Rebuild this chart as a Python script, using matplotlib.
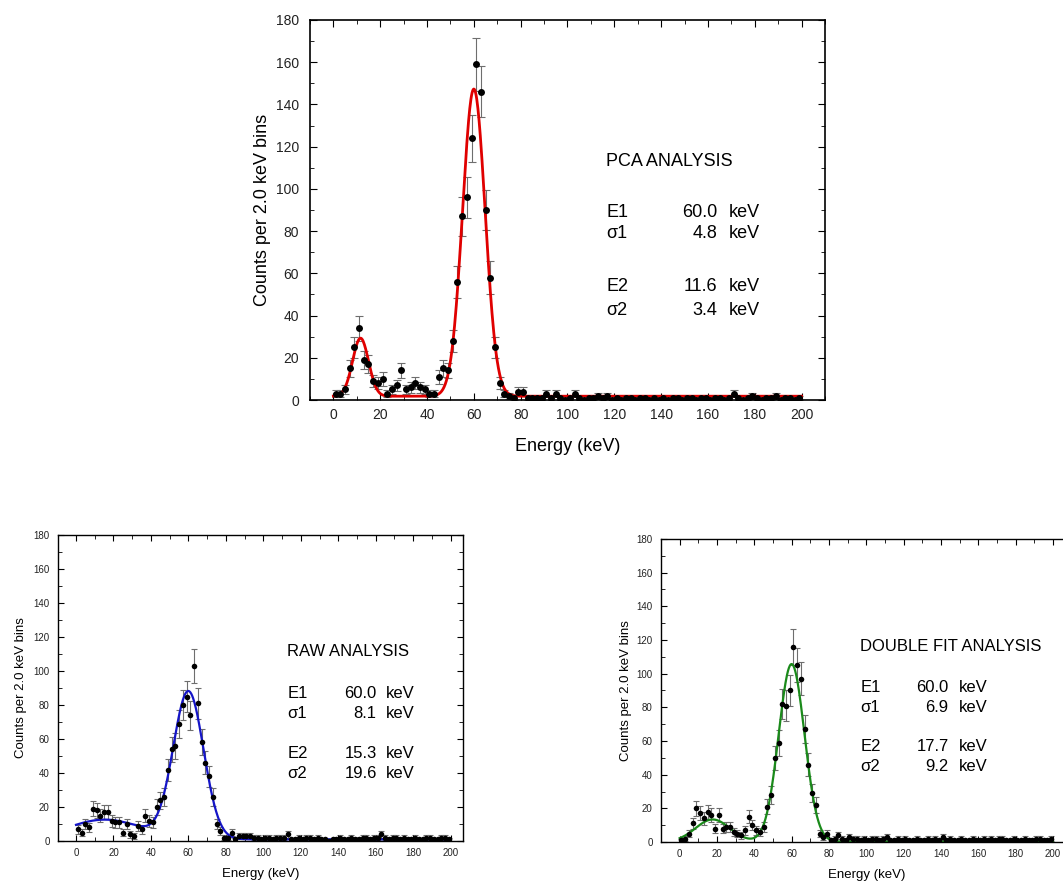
import numpy as np
import matplotlib.pyplot as plt
from matplotlib.ticker import MultipleLocator

plt.rcParams['font.family'] = ['Liberation Sans', 'DejaVu Sans']

# 2.0 keV bins, centres 1 ... 199 keV
energy = np.arange(1, 200, 2)

pca_counts = [3, 3, 5, 15, 25, 34, 19, 17, 9, 8,
              10, 3, 5, 7, 14, 5, 6, 8, 6, 5,
              3, 3, 11, 15, 14, 28, 56, 87, 96, 124,
              159, 146, 90, 58, 25, 8, 3, 2, 1, 4,
              4, 1, 1, 1, 1, 3, 1, 3, 1, 0,
              1, 3, 1, 0, 1, 1, 2, 1, 2, 0,
              1, 0, 1, 1, 0, 1, 1, 0, 1, 0,
              1, 0, 1, 1, 0, 1, 1, 0, 1, 1,
              0, 1, 1, 0, 1, 3, 1, 0, 1, 2,
              1, 0, 1, 1, 2, 0, 1, 1, 0, 1]

raw_counts = [7, 5, 10, 8, 19, 18, 15, 17, 17, 12,
              11, 11, 5, 10, 4, 3, 9, 7, 15, 12,
              11, 20, 24, 26, 42, 54, 56, 69, 80, 85,
              74, 103, 81, 58, 46, 38, 26, 10, 6, 2,
              2, 5, 1, 3, 3, 3, 3, 2, 2, 1,
              2, 2, 1, 2, 2, 2, 4, 1, 1, 2,
              1, 2, 2, 1, 2, 1, 1, 0, 1, 1,
              2, 1, 1, 2, 1, 1, 2, 2, 1, 2,
              2, 4, 2, 1, 2, 2, 1, 2, 1, 1,
              2, 1, 1, 2, 2, 1, 1, 2, 2, 1]

dbl_counts = [1, 2, 5, 11, 20, 17, 14, 18, 16, 8,
              16, 8, 9, 9, 6, 5, 4, 7, 15, 10,
              7, 6, 9, 21, 28, 50, 59, 82, 81, 90,
              116, 105, 97, 67, 46, 29, 22, 5, 3, 5,
              1, 2, 4, 2, 1, 3, 2, 2, 1, 2,
              1, 2, 2, 1, 2, 3, 1, 1, 2, 1,
              2, 1, 1, 2, 1, 1, 2, 1, 2, 1,
              3, 1, 2, 1, 1, 2, 1, 1, 2, 1,
              1, 2, 1, 2, 1, 2, 2, 1, 1, 2,
              1, 1, 2, 1, 1, 2, 2, 1, 1, 2]

# fit results: amplitude1, E1, sigma1, amplitude2, E2, sigma2, background
pca_fit = [145.5, 60.0, 4.8, 27.5, 11.6, 3.4, 1.8]
raw_fit = [86.4, 60.0, 8.1, 11.6, 15.3, 19.6, 1.0]
dbl_fit = [105.5, 60.0, 6.9, 13.2, 17.7, 9.2, 0.2]


def two_gauss(x, a1, e1, s1, a2, e2, s2, bg):
    return (a1 * np.exp(-(x - e1) ** 2 / (2 * s1 ** 2))
            + a2 * np.exp(-(x - e2) ** 2 / (2 * s2 ** 2)) + bg)


def draw_panel(ax, counts, fit, color, title, xs, ys, big, ypad):
    counts = np.array(counts, dtype=float)
    if big:
        ms, cap, lw, tick_fs, lab_fs, txt_fs = 5, 3, 2.0, 10, 13, 13
    else:
        ms, cap, lw, tick_fs, lab_fs, txt_fs = 4, 2.5, 1.6, 7, 9.5, 12

    ax.errorbar(energy, counts, yerr=np.sqrt(counts), fmt='none',
                ecolor='#6e6e6e', elinewidth=0.8, capsize=cap, capthick=0.8, zorder=1)
    xx = np.linspace(0, 200, 801)
    ax.plot(xx, two_gauss(xx, *fit), color=color, lw=lw, zorder=2)
    ax.plot(energy, counts, 'o', color='black', ms=ms, mec='none', zorder=3)

    ax.set_ylim(0, 180)
    ax.xaxis.set_major_locator(MultipleLocator(20))
    ax.xaxis.set_minor_locator(MultipleLocator(10))
    ax.yaxis.set_major_locator(MultipleLocator(20))
    ax.yaxis.set_minor_locator(MultipleLocator(10))
    ax.tick_params(which='both', direction='in', top=True, right=True,
                   labelsize=tick_fs, labelcolor='#222222')
    ax.tick_params(which='major', length=5 if big else 4)
    ax.tick_params(which='minor', length=3)
    ax.tick_params(axis='x', pad=6 if big else 5)
    ax.tick_params(axis='y', pad=8 if big else 6)
    for sp in ax.spines.values():
        sp.set_linewidth(1.2 if big else 1.0)

    ax.set_xlabel('Energy (keV)', fontsize=lab_fs, labelpad=11 if big else 7)
    ax.set_ylabel('Counts per 2.0 keV bins', fontsize=lab_fs, labelpad=ypad)

    # fit summary
    a1, e1, s1, a2, e2, s2, bg = fit
    ax.text(xs[0], ys[0], title, fontsize=txt_fs, va='center', ha='left')
    rows = [('E1', e1), ('\u03c31', s1), ('E2', e2), ('\u03c32', s2)]
    for (name, val), y in zip(rows, ys[1:]):
        ax.text(xs[0], y, name, fontsize=txt_fs, va='center', ha='left')
        ax.text(xs[1], y, f'{val:.1f}', fontsize=txt_fs, va='center', ha='right')
        ax.text(xs[2], y, 'keV', fontsize=txt_fs, va='center', ha='left')


fig = plt.figure(figsize=(10.63, 8.84), dpi=100)

ax_pca = fig.add_axes([0.2916, 0.5475, 0.4845, 0.4299])
ax_pca.set_xlim(-10, 210)
draw_panel(ax_pca, pca_counts, pca_fit, '#e00000', 'PCA ANALYSIS',
           (116.5, 164.0, 169.0), (113, 88.6, 79.1, 53.6, 42.2), True, 3)

ax_raw = fig.add_axes([0.0546, 0.0486, 0.381, 0.3462])
ax_raw.set_xlim(-9.6, 206.6)
draw_panel(ax_raw, raw_counts, raw_fit, '#1515c8', 'RAW ANALYSIS',
           (112.8, 160.5, 165.5), (111.4, 86.9, 75.1, 51.6, 39.8), False, 5)

ax_dbl = fig.add_axes([0.6218, 0.0475, 0.3862, 0.3428])
ax_dbl.set_xlim(-10, 210)
draw_panel(ax_dbl, dbl_counts, dbl_fit, '#1a8a1a', 'DOUBLE FIT ANALYSIS',
           (96.9, 144.1, 149.5), (115.9, 91.9, 80, 56.6, 44.7), False, 3)

fig.savefig('out.png', dpi=100, facecolor='white')
